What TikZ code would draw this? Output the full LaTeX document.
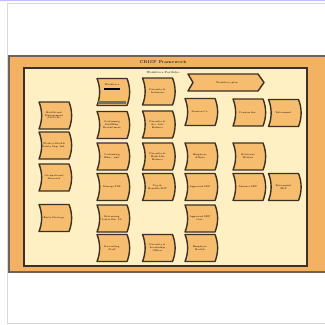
\documentclass[tikz,border=0pt]{standalone}
\usepackage{tikz}
\definecolor{frameorange}{HTML}{F2B262}
\definecolor{innercream}{HTML}{FFF0C4}
\definecolor{boxfill}{HTML}{F6BD6E}
\definecolor{edgedark}{HTML}{3B3024}
\tikzset{
  boxsty/.style={draw=edgedark, line width=1.4pt, fill=boxfill, line join=round},
  boxtext/.style={inner sep=0pt, align=center, font=\fontsize{2.4}{2.9}\selectfont, text width=24pt},
  ttl/.style={inner sep=0pt, font=\fontsize{4.2}{5}\selectfont},
  subttl/.style={inner sep=0pt, font=\fontsize{2.8}{3.4}\selectfont}
}
\newcommand\wbox[4]{%
  \draw[boxsty] ({#2-15},{#3-13.5}) -- ({#2+15},{#3-13.5})
    .. controls ({#2+18.5},{#3-5}) and ({#2+18.5},{#3+5}) .. ({#2+15},{#3+13.5})
    -- ({#2-15},{#3+13.5})
    .. controls ({#2-11.5},{#3+5}) and ({#2-11.5},{#3-5}) .. cycle;
  \node[boxtext] (#1) at (#2,#3) {#4};}
\begin{document}
\begin{tikzpicture}[x=1pt,y=-1pt]
\useasboundingbox (0,0) rectangle (325,325);
\fill[white] (0,0) rectangle (325,325);
\draw[black!15, line width=0.8pt] (7,3) rectangle (326,323);
\draw[blue!25, line width=1pt] (0,0.5) -- (325,0.5);
% outer frame
\draw[fill=frameorange, draw=edgedark!75, line width=1.2pt] (9,56) rectangle (330,272);
\node[ttl] (title) at (163,62) {CRISP Framework};
% inner frame
\draw[fill=innercream, draw=edgedark, line width=1.3pt] (24,68) rectangle (307,266);
\node[subttl] (sub) at (163,72.5) {Workforce Portfolio};
% chevron
\draw[boxsty] (188,74) -- (258,74) -- (264,82.5) -- (258,91) -- (188,91) -- (193,82.5) -- cycle;
\node[boxtext, text width=50pt] (chev) at (227,82.5) {Workforce plan};
% column A
\wbox{a1}{54}{115.5}{Health and\\Management\\(ILO-OS)}
\wbox{a2}{54}{145.5}{Work to Health\\Safety Sup. Ind.}
\wbox{a3}{54}{177.5}{Occupational\\Research}
\wbox{a4}{54}{218}{Early Strategy}
% column B
\wbox{b1}{112}{92}{}
\fill[black] (104,87.5) rectangle (120,90);
\fill[edgedark!70] (98,100.5) rectangle (126,104);
\node[boxtext] (b1t) at (112,84.5) {Workforce};
\wbox{b2}{112}{125}{Continuing\\Staff Edu.\\Recruitment}
\wbox{b3}{112}{156.5}{Continuing\\Educ. unit}
\wbox{b4}{112}{187}{Manage SDP}
\wbox{b5}{112}{218.5}{Retraining\\Labor Fin. Dt}
\wbox{b6}{112}{248}{Recruiting\\Staff}
% column C
\wbox{c1}{157.5}{91.5}{Diversity \&\\Inclusion}
\wbox{c2}{157.5}{124.5}{Diversity \&\\Acc. Life\\Balance}
\wbox{c3}{157.5}{156.5}{Diversity \&\\Work Life\\Balance}
\wbox{c4}{157.5}{187}{Pay \&\\Benefits SDP}
\wbox{c5}{157.5}{248}{Diversity \&\\Leadership\\Officer}
% column D
\wbox{d1}{200}{112}{Pension Co.}
\wbox{d2}{200}{156.5}{Employee\\Affairs}
\wbox{d3}{200}{187}{Approved SDP}
\wbox{d4}{200}{218.5}{Approved SDP\\Cert.}
\wbox{d5}{200}{248}{Employee\\Health}
% column E
\wbox{e1}{248}{112.5}{Pension Ins.}
\wbox{e2}{248}{156.5}{Relations\\Welfare}
\wbox{e3}{248}{187}{Absence SDP}
% column F
\wbox{f1}{283.5}{113}{Retirement}
\wbox{f3}{283.5}{187}{Retirement\\SDP}
\end{tikzpicture}
\end{document}
